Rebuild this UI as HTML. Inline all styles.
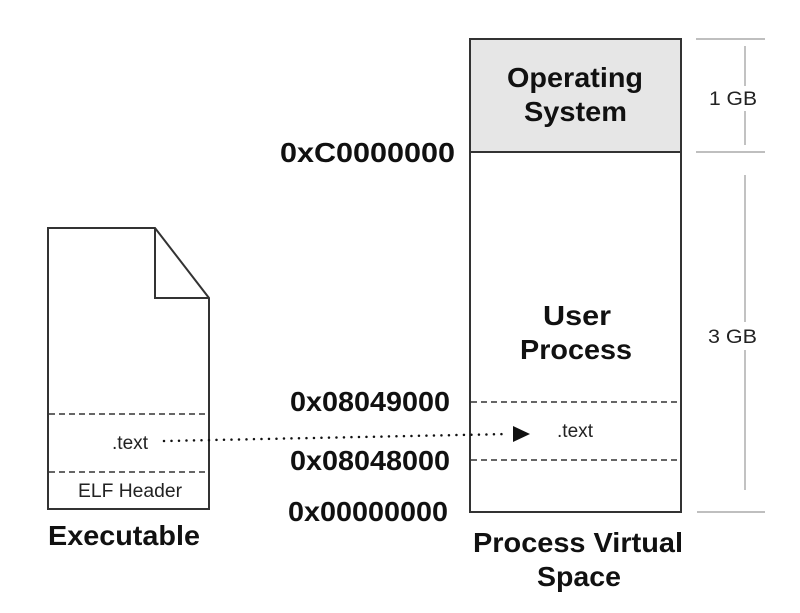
<!DOCTYPE html>
<html><head><meta charset="utf-8"><style>
html,body{margin:0;padding:0;background:#fff;width:800px;height:613px;overflow:hidden}
svg{display:block}
</style></head><body>
<svg width="800" height="613" viewBox="0 0 800 613" font-family="Liberation Sans, Arial, sans-serif">
<rect x="470" y="39" width="211" height="113" fill="#e6e6e6" stroke="#333" stroke-width="2"/>
<rect x="470" y="152" width="211" height="360" fill="#fff" stroke="#333" stroke-width="2"/>
<line x1="471" y1="402" x2="680" y2="402" stroke="#333" stroke-width="1.5" stroke-dasharray="6,4"/>
<line x1="471" y1="460" x2="680" y2="460" stroke="#333" stroke-width="1.5" stroke-dasharray="6,4"/>
<path d="M48,228 L155,228 L209,298 L209,509 L48,509 Z" fill="#fff" stroke="#333" stroke-width="2"/>
<path d="M155,228 L155,298 L209,298" fill="none" stroke="#333" stroke-width="2"/>
<line x1="49" y1="414" x2="208" y2="414" stroke="#333" stroke-width="1.5" stroke-dasharray="6,4"/>
<line x1="49" y1="472" x2="208" y2="472" stroke="#333" stroke-width="1.5" stroke-dasharray="6,4"/>
<g font-weight="bold" fill="#111" font-size="28">
<text x="507" y="87" textLength="136" lengthAdjust="spacingAndGlyphs">Operating</text>
<text x="524" y="121" textLength="103" lengthAdjust="spacingAndGlyphs">System</text>
<text x="543" y="325" textLength="68" lengthAdjust="spacingAndGlyphs">User</text>
<text x="520" y="359" textLength="112" lengthAdjust="spacingAndGlyphs">Process</text>
<text x="280" y="162" textLength="175" lengthAdjust="spacingAndGlyphs">0xC0000000</text>
<text x="290" y="411" textLength="160" lengthAdjust="spacingAndGlyphs">0x08049000</text>
<text x="290" y="470" textLength="160" lengthAdjust="spacingAndGlyphs">0x08048000</text>
<text x="288" y="521" textLength="160" lengthAdjust="spacingAndGlyphs">0x00000000</text>
<text x="48" y="545" textLength="152" lengthAdjust="spacingAndGlyphs">Executable</text>
<text x="473" y="552" textLength="210" lengthAdjust="spacingAndGlyphs">Process Virtual</text>
<text x="537" y="586" textLength="84" lengthAdjust="spacingAndGlyphs">Space</text>
</g>
<g fill="#222" font-size="19">
<text x="557" y="437" textLength="36" lengthAdjust="spacingAndGlyphs">.text</text>
<text x="112" y="449" textLength="36" lengthAdjust="spacingAndGlyphs">.text</text>
<text x="78" y="497" textLength="104" lengthAdjust="spacingAndGlyphs">ELF Header</text>
<text x="709" y="105" textLength="48" lengthAdjust="spacingAndGlyphs">1 GB</text>
<text x="708" y="343" textLength="49" lengthAdjust="spacingAndGlyphs">3 GB</text>
</g>
<g stroke="#999" stroke-width="1.2">
<line x1="696" y1="39" x2="765" y2="39"/>
<line x1="696" y1="152" x2="765" y2="152"/>
<line x1="697" y1="512" x2="765" y2="512"/>
<line x1="745" y1="46" x2="745" y2="86"/>
<line x1="745" y1="111" x2="745" y2="145"/>
<line x1="745" y1="175" x2="745" y2="322"/>
<line x1="745" y1="350" x2="745" y2="490"/>
</g>
<line x1="164" y1="441" x2="508" y2="434" stroke="#111" stroke-width="2.5" stroke-linecap="round" stroke-dasharray="0,7.5"/>
<path d="M513,426 L530,434 L513,442 Z" fill="#111"/>
</svg>
</body></html>
